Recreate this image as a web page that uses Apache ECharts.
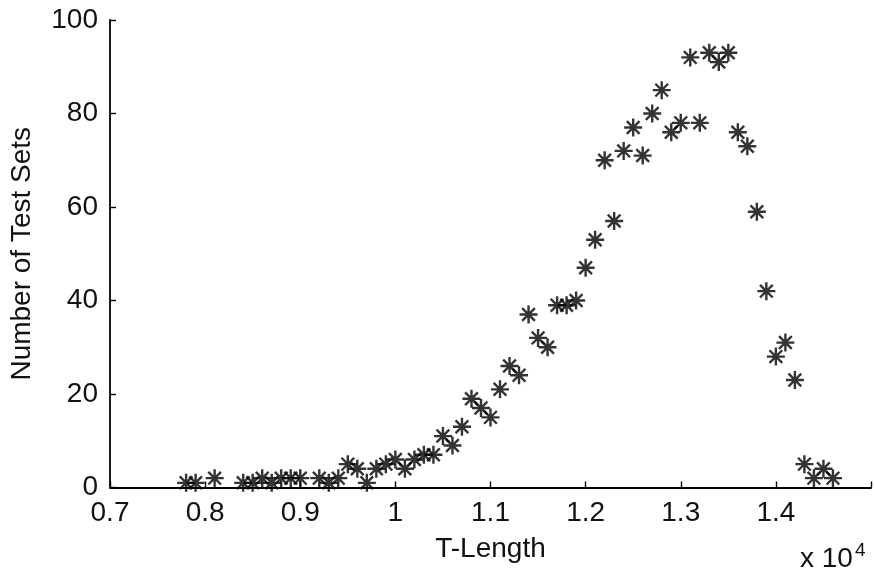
<!DOCTYPE html>
<html>
<head>
<meta charset="utf-8">
<script src="https://cdn.jsdelivr.net/npm/echarts@6/dist/echarts.min.js"></script>
<style>
html,body{margin:0;padding:0;background:#fff;}
#chart{width:874px;height:584px;}
</style>
</head>
<body>
<div id="chart"></div>
<script>
// T-Length values (raw units)
const tLength = [7800, 7900, 8100, 8400, 8500, 8600, 8700, 8800, 8900, 9000,
  9200, 9300, 9400, 9500, 9600, 9700, 9800, 9900, 10000, 10100,
  10200, 10300, 10400, 10500, 10600, 10700, 10800, 10900, 11000, 11100,
  11200, 11300, 11400, 11500, 11600, 11700, 11800, 11900, 12000, 12100,
  12200, 12300, 12400, 12500, 12600, 12700, 12800, 12900, 13000, 13100,
  13200, 13300, 13400, 13500, 13600, 13700, 13800, 13900, 14000, 14100,
  14200, 14300, 14400, 14500, 14600];
// Number of test sets
const testSets = [1, 1, 2, 1, 1, 2, 1, 2, 2, 2,
  2, 1, 2, 5, 4, 1, 4, 5, 6, 4,
  6, 7, 7, 11, 9, 13, 19, 17, 15, 21,
  26, 24, 37, 32, 30, 39, 39, 40, 47, 53,
  70, 57, 72, 77, 71, 80, 85, 76, 78, 92,
  78, 93, 91, 93, 76, 73, 59, 42, 28, 31,
  23, 5, 2, 4, 2];
const xTickLabels = ['0.7', '0.8', '0.9', '1', '1.1', '1.2', '1.3', '1.4', ''];
const yTickLabels = ['0', '20', '40', '60', '80', '100'];

const FONT = '"Liberation Sans", Arial, Helvetica, sans-serif';
const TXT = '#111';

const chart = echarts.init(document.getElementById('chart'));
chart.setOption({
  animation: false,
  backgroundColor: '#ffffff',
  grid: { left: 110, right: 1, top: 20, bottom: 96.5, containLabel: false },
  xAxis: {
    type: 'value', min: 7000, max: 15000, interval: 1000,
    name: 'T-Length', nameLocation: 'middle', nameGap: 48,
    nameTextStyle: { fontFamily: FONT, fontSize: 28, color: TXT },
    axisLine: { show: true, onZero: false, lineStyle: { color: '#000', width: 1.8 } },
    axisTick: { show: true, inside: true, length: 6, lineStyle: { color: '#000', width: 1.4 } },
    axisLabel: {
      margin: 12, fontFamily: FONT, fontSize: 28, color: TXT,
      formatter: function (v) { return xTickLabels[Math.round((v - 7000) / 1000)] || ''; }
    },
    splitLine: { show: false }
  },
  yAxis: {
    type: 'value', min: 0, max: 100, interval: 20,
    name: 'Number of Test Sets', nameLocation: 'middle', nameGap: 74,
    nameTextStyle: { fontFamily: FONT, fontSize: 28, color: TXT },
    axisLine: { show: true, lineStyle: { color: '#000', width: 1.8 } },
    axisTick: { show: true, inside: true, length: 6, lineStyle: { color: '#000', width: 1.4 } },
    axisLabel: {
      margin: 12, fontFamily: FONT, fontSize: 28, color: TXT,
      formatter: function (v) { return yTickLabels[Math.round(v / 20)]; }
    },
    splitLine: { show: false }
  },
  graphic: [{
    type: 'text', left: 800, top: 541,
    style: {
      text: 'x 10{sup|4}',
      font: '28px ' + FONT, fill: TXT,
      rich: { sup: { fontSize: 19, fontFamily: FONT, fill: TXT, verticalAlign: 'top', padding: [0, 0, 18, 2] } }
    }
  }],
  series: [{
    type: 'scatter',
    data: tLength.map((x, i) => [x, testSets[i]]),
    symbol: 'path://M10,0 L10,20 M0,10 L20,10 M2.93,2.93 L17.07,17.07 M2.93,17.07 L17.07,2.93',
    symbolSize: 18,
    itemStyle: { color: 'rgba(0,0,0,0)', borderColor: '#000', borderWidth: 2.4 },
    clip: false
  }]
});
</script>
</body>
</html>
